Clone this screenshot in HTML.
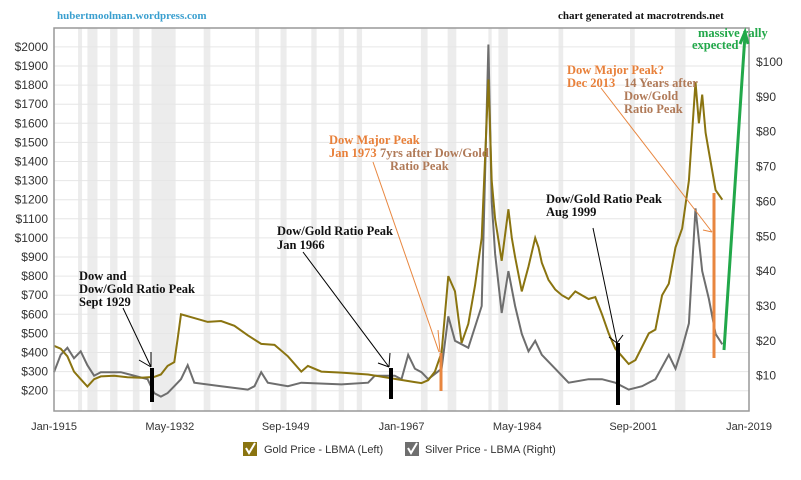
<!DOCTYPE html>
<html><head><meta charset="utf-8">
<style>
body{margin:0;background:#fff;width:801px;height:475px;overflow:hidden;font-family:"Liberation Sans",sans-serif}
svg text{font-family:"Liberation Sans",sans-serif}
.ann, .ann text{font-family:"Liberation Serif",serif;font-weight:bold;font-size:12.5px}
</style></head><body>
<svg id="chart" width="801" height="475" xmlns="http://www.w3.org/2000/svg">
<g id="bands"></g>
<g id="grid"></g>
<g id="series"></g>
<g id="axes"></g>
<g id="ann"></g>
</svg>
<script>
const goldYears=[1915,1916,1917,1918,1919,1920,1921,1922,1924,1926,1928,1930,1931,1932,1933,1933.5,1934,1936,1938,1940,1942,1944,1946,1948,1950,1952,1953,1955,1958,1962,1966,1969,1970,1971,1972,1973,1974,1975,1976,1977,1978,1979,1980,1980.5,1981,1982,1983,1983.5,1984,1985,1986,1987,1987.5,1988,1989,1990,1991,1992,1993,1994,1995,1996,1997,1998,1999,2000,2001,2002,2003,2004,2005,2006,2007,2008,2009,2010,2011,2011.5,2012,2012.5,2013,2014,2015];
const goldValues=[435,420,380,300,260,222,260,275,278,270,268,272,285,330,350,470,600,580,560,565,540,490,445,440,380,300,330,300,295,285,262,245,240,255,300,400,800,720,450,550,750,1000,1830,1300,1100,880,1150,1000,900,720,850,1000,950,870,780,730,700,680,720,700,680,690,600,500,420,380,340,360,430,500,520,700,760,950,1050,1300,1816,1600,1750,1550,1450,1250,1200];
const silverYears=[1915,1916,1917,1918,1919,1920,1921,1922,1925,1929,1930,1931,1932,1933,1934,1935,1936,1940,1944,1945,1946,1947,1950,1952,1958,1962,1963,1966,1967,1968,1969,1970,1971,1973,1974,1975,1977,1979,1980,1980.5,1981,1982,1983,1984,1985,1986,1987,1988,1990,1992,1995,1997,1999,2001,2003,2005,2007,2008,2009,2010,2011,2012,2013,2014,2015];
const silverValues=[11,16,18,15,17,13,10,11,11,9,5,4,5,7,9,13,8,7,6,7,11,8,7,8,7.5,8,10,10,9,16,12,11,9,12,27,20,18,30,105,60,45,28,40,30,22,17,20,16,12,8,9,9,8,6,7,9,16,12,18,25,58,40,32,22,19];
const leftTicks=[200,300,400,500,600,700,800,900,1000,1100,1200,1300,1400,1500,1600,1700,1800,1900,2000];
const rightTicks=[10,20,30,40,50,60,70,80,90,100];
const xTickYears=[1915,1932.33,1949.67,1967,1984.33,2001.67,2019];
const xTickLabels=["Jan-1915","May-1932","Sep-1949","Jan-1967","May-1984","Sep-2001","Jan-2019"];
const recessions=[[1918.6,1919.2],[1920,1921.5],[1923.4,1924.5],[1926.8,1927.8],[1929.6,1933.2],[1937.4,1938.4],[1945.1,1945.7],[1948.9,1949.8],[1953.5,1954.3],[1957.6,1958.4],[1960.3,1961.1],[1969.9,1970.9],[1973.9,1975.2],[1980,1980.5],[1981.5,1982.9],[1990.5,1991.2],[2001.2,2001.9],[2007.9,2009.5]];

const NS="http://www.w3.org/2000/svg";
const L=54,R=749,T=28,B=411;
const x=y=>L+(y-1915)*(R-L)/(2019-1915);
const yL=v=>390.7-(v-200)*0.191;
const yR=s=>375.7-(s-10)*3.486;
function mk(tag,attrs,parent,txt){const e=document.createElementNS(NS,tag);for(const k in attrs)e.setAttribute(k,attrs[k]);if(txt!==undefined)e.textContent=txt;parent.appendChild(e);return e;}
const bands=document.getElementById('bands'),grid=document.getElementById('grid'),series=document.getElementById('series'),axes=document.getElementById('axes'),ann=document.getElementById('ann');
recessions.forEach(r=>{const e=mk('rect',{x:x(r[0]),y:T,width:x(r[1])-x(r[0]),height:B-T,fill:'#ececec'},bands);

});
leftTicks.forEach(v=>{const e=mk('line',{x1:L,x2:R,y1:yL(v),y2:yL(v),stroke:'#e6e6e6','stroke-width':1},grid);


const t=mk('text',{x:48,y:yL(v)+4,'text-anchor':'end','font-size':'12',fill:'#333'},axes,'$'+v);

});
rightTicks.forEach(v=>{const t=mk('text',{x:756,y:yR(v)+4,'font-size':'12',fill:'#333'},axes,'$'+v);

});
xTickYears.forEach((yv,i)=>{const t=mk('text',{x:x(yv),y:430,'text-anchor':'middle','font-size':'11',fill:'#333'},axes,xTickLabels[i]);

});
const frame=mk('rect',{x:L,y:T,width:R-L,height:B-T,fill:'none',stroke:'#999','stroke-width':1.5},axes);


const sp=silverYears.map((yv,i)=>x(yv).toFixed(1)+','+yR(silverValues[i]).toFixed(1)).join(' ');
const sl=mk('polyline',{points:sp,fill:'none',stroke:'#6e6e6e','stroke-width':2},series);


const gp=goldYears.map((yv,i)=>x(yv).toFixed(1)+','+yL(goldValues[i]).toFixed(1)).join(' ');
const gl=mk('polyline',{points:gp,fill:'none',stroke:'#8a7410','stroke-width':2},series);


</script>
<svg style="position:absolute;left:0;top:0" width="801" height="475">
<text x="57" y="19" class="ann" fill="#3a9fcf" style="font-size:11px">hubertmoolman.wordpress.com</text>
<text x="558" y="19" class="ann" fill="#111" style="font-size:11px">chart generated at macrotrends.net</text>
<g stroke="#000" stroke-width="1">
<line x1="123" y1="308" x2="151" y2="367"/><line x1="139" y1="360" x2="151" y2="367"/><line x1="151" y1="352" x2="151" y2="367"/>
<line x1="303" y1="252" x2="389" y2="367"/><line x1="378" y1="363" x2="389" y2="367"/><line x1="390" y1="353" x2="389" y2="367"/>
<line x1="593" y1="228" x2="617" y2="343"/><line x1="609" y1="337" x2="617" y2="343"/><line x1="623" y1="335" x2="617" y2="343"/>
</g>
<g fill="#000">
<rect x="150" y="368" width="4" height="34"/><rect x="389" y="368" width="4" height="31"/><rect x="616" y="343" width="4" height="62"/>
</g>
<g stroke="#e8863f">
<line x1="373" y1="162" x2="439" y2="352" stroke-width="1"/><line x1="438" y1="330" x2="440" y2="352" stroke-width="1"/>
<line x1="441" y1="353" x2="441" y2="391" stroke-width="3"/>
<line x1="601" y1="88" x2="712" y2="232" stroke-width="1"/><line x1="703" y1="230" x2="712" y2="232" stroke-width="1"/>
<line x1="714" y1="193" x2="714" y2="358" stroke-width="3"/>
</g>
<g stroke="#22a84a" stroke-width="3" fill="none">
<polyline points="724,350 732,230 745,35"/><polyline points="740,44 745,32 748,44"/>
</g>
<g class="ann">
<text x="329" y="144" fill="#e8803a">Dow Major Peak</text>
<text x="329" y="157" fill="#e8803a">Jan 1973</text>
<text x="380" y="157" fill="#b07a58">7yrs after Dow/Gold</text>
<text x="390" y="170" fill="#b07a58">Ratio Peak</text>
<text x="277" y="235" fill="#111">Dow/Gold Ratio Peak</text>
<text x="277" y="249" fill="#111">Jan 1966</text>
<text x="79" y="280" fill="#111">Dow and</text>
<text x="79" y="293" fill="#111">Dow/Gold Ratio Peak</text>
<text x="79" y="306" fill="#111">Sept 1929</text>
<text x="546" y="203" fill="#111">Dow/Gold Ratio Peak</text>
<text x="546" y="216" fill="#111">Aug 1999</text>
<text x="567" y="74" fill="#e8803a">Dow Major Peak?</text>
<text x="567" y="87" fill="#e8803a">Dec 2013</text>
<text x="624" y="87" fill="#b07a58">14 Years after</text>
<text x="624" y="100" fill="#b07a58">Dow/Gold</text>
<text x="624" y="113" fill="#b07a58">Ratio Peak</text>
<text x="698" y="37" fill="#22a84a">massive rally</text>
<text x="692" y="49" fill="#22a84a">expected</text>
</g>
<g>
<rect x="243" y="442" width="14" height="14" fill="#8a7410"/>
<polyline points="246,448 249,453 255,443" fill="none" stroke="#fff" stroke-width="2"/>
<text x="264" y="453" font-size="11" fill="#333">Gold Price - LBMA (Left)</text>
</g>
<g>
<rect x="405" y="442" width="14" height="14" fill="#6e6e6e"/>
<polyline points="408,448 411,453 417,443" fill="none" stroke="#fff" stroke-width="2"/>
<text x="425" y="453" font-size="11" fill="#333">Silver Price - LBMA (Right)</text>
</g>
</svg>
</body></html>
